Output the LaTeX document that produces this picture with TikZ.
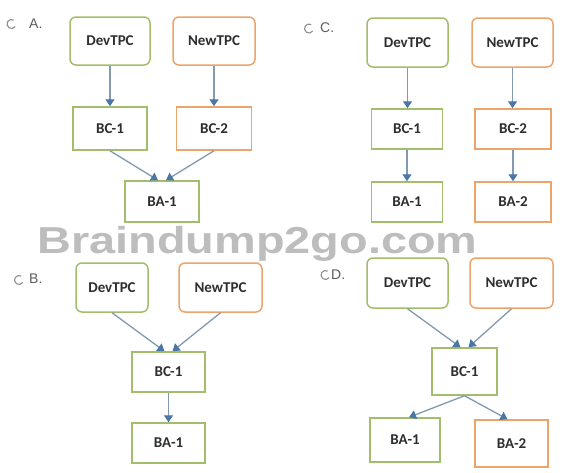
\documentclass[tikz,border=0pt]{standalone}
\usepackage{fontspec}
\setmainfont{Carlito}
\newfontfamily\lblfont{Liberation Sans}
\usetikzlibrary{arrows.meta}
\definecolor{gborder}{HTML}{A3BE6A}
\definecolor{oborder}{HTML}{EDA46A}
\definecolor{arrline}{HTML}{8299B2}
\definecolor{arrtip}{HTML}{4A76A8}
\definecolor{txt}{HTML}{2E2E2E}
\definecolor{wmark}{HTML}{BDBDBD}
\definecolor{lbl}{HTML}{5E5E5E}
\tikzset{
  x=1pt, y=-1pt,
  box/.style={draw, line width=1.5pt, fill=white, text=txt,
    font=\fontsize{15}{18}\selectfont\bfseries, inner sep=0pt},
  tpcbox/.style={box, rounded corners=6pt, minimum width=80pt, minimum height=48pt},
  sqbox/.style={box, minimum width=74pt, minimum height=41pt},
  gb/.style={draw=gborder},
  ob/.style={draw=oborder},
  arr/.style={draw=arrline, line width=1.3pt,
    -{Triangle[width=9pt,length=7pt,color=arrtip]}},
  optlbl/.style={font=\lblfont\fontsize{14}{16}\selectfont, text=lbl, anchor=west, inner sep=0pt},
  radio/.style={draw=lbl!70, line width=1.1pt},
}
\begin{document}
\begin{tikzpicture}
\useasboundingbox[fill=white] (0,0) rectangle (563,472);

% watermark
\node[anchor=base, text=wmark, inner sep=0pt, font=\lblfont\fontsize{37.5}{40}\selectfont\bfseries]
  (wm) at (257.5,253) {\scalebox{1.25}[1]{Braindump2go.com}};

% ---------- option labels ----------
\draw[radio] (11.5,24) ++(35:4.5) arc (35:300:4.5);
\node[optlbl] (lA) at (29,23.5) {A.};
\draw[radio] (309,28.5) ++(35:4.5) arc (35:300:4.5);
\node[optlbl] (lC) at (320,28) {C.};
\draw[radio] (19,280) ++(35:4.5) arc (35:300:4.5);
\node[optlbl] (lB) at (29,279) {B.};
\draw[radio] (325.5,275) ++(35:4.5) arc (35:300:4.5);
\node[optlbl] (lD) at (331,274.5) {D.};

% ---------- A ----------
\node[tpcbox, gb] (Adev) at (110,41) {DevTPC};
\node[tpcbox, ob, minimum width=82pt] (Anew) at (214,41) {NewTPC};
\node[sqbox, gb, minimum height=43pt] (Abc1) at (110,128.5) {BC-1};
\node[sqbox, ob, minimum width=75pt, minimum height=43pt] (Abc2) at (214,128.5) {BC-2};
\node[sqbox, gb] (Aba1) at (162,201.5) {BA-1};
\draw[arr] (Adev.south) -- (Adev.south |- Abc1.north);
\draw[arr] (Anew.south) -- (Anew.south |- Abc2.north);
\draw[arr] (Abc1.south) -- ([xshift=-4pt]Aba1.north);
\draw[arr] (Abc2.south) -- ([xshift=4pt]Aba1.north);

% ---------- C ----------
\node[tpcbox, gb, minimum width=81pt, minimum height=49pt] (Cdev) at (407.5,42.5) {DevTPC};
\node[tpcbox, ob, minimum width=81pt, minimum height=49pt] (Cnew) at (512.5,42.5) {NewTPC};
\node[sqbox, gb, minimum width=71pt, minimum height=40pt] (Cbc1) at (407,129) {BC-1};
\node[sqbox, ob, minimum width=76pt, minimum height=40pt] (Cbc2) at (513,129) {BC-2};
\node[sqbox, gb, minimum width=71pt, minimum height=40pt] (Cba1) at (407,202) {BA-1};
\node[sqbox, ob, minimum width=76pt, minimum height=40pt] (Cba2) at (513,202) {BA-2};
\draw[arr] (Cdev.south) -- (Cdev.south |- Cbc1.north);
\draw[arr] (Cnew.south) -- (Cnew.south |- Cbc2.north);
\draw[arr] (Cbc1.south) -- (Cbc1.south |- Cba1.north);
\draw[arr] (Cbc2.south) -- (Cbc2.south |- Cba2.north);

% ---------- B ----------
\node[tpcbox, gb, minimum width=72pt, minimum height=49pt] (Bdev) at (112,287.5) {DevTPC};
\node[tpcbox, ob, minimum width=83pt, minimum height=49pt] (Bnew) at (220.5,287.5) {NewTPC};
\node[sqbox, gb, minimum width=73pt, minimum height=40pt] (Bbc1) at (168.5,372) {BC-1};
\node[sqbox, gb, minimum width=73pt, minimum height=40pt] (Bba1) at (168.5,443) {BA-1};
\draw[arr] (Bdev.south) -- ([xshift=-4pt]Bbc1.north);
\draw[arr] (Bnew.south) -- ([xshift=4pt]Bbc1.north);
\draw[arr] (Bbc1.south) -- (Bbc1.south |- Bba1.north);

% ---------- D ----------
\node[tpcbox, gb, minimum width=81pt, minimum height=50pt] (Ddev) at (407.5,283) {DevTPC};
\node[tpcbox, ob, minimum width=83pt, minimum height=50pt] (Dnew) at (511.5,283) {NewTPC};
\node[sqbox, gb, minimum width=65pt, minimum height=47pt] (Dbc1) at (464.5,371.5) {BC-1};
\node[sqbox, gb, minimum width=70pt, minimum height=44pt] (Dba1) at (405,440) {BA-1};
\node[sqbox, ob, minimum width=73pt, minimum height=47pt] (Dba2) at (511.5,443.5) {BA-2};
\draw[arr] (Ddev.south) -- ([xshift=-4pt]Dbc1.north);
\draw[arr] (Dnew.south) -- ([xshift=4pt]Dbc1.north);
\draw[arr] (Dbc1.south) -- ([xshift=4pt]Dba1.north);
\draw[arr] (Dbc1.south) -- ([xshift=-4pt]Dba2.north);
\end{tikzpicture}
\end{document}
